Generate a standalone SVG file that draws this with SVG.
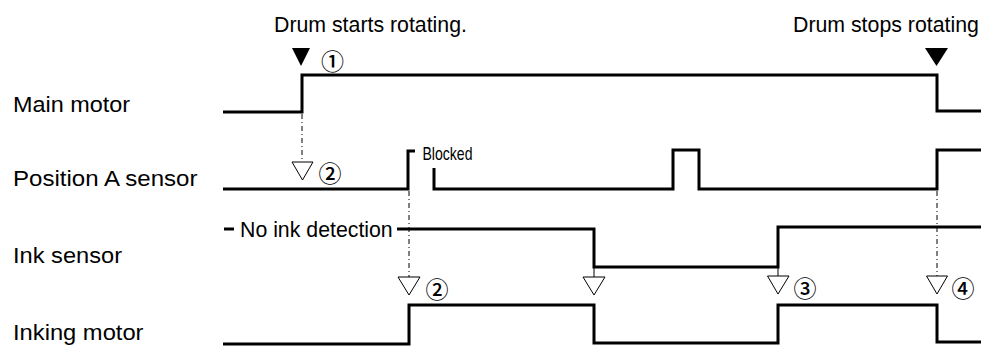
<svg xmlns="http://www.w3.org/2000/svg" width="981" height="347" viewBox="0 0 981 347">
<style>
text{font-family:"Liberation Sans",Arial,sans-serif;fill:#000}
.lbl{font-size:21.3px}
.num{font-family:"Noto Sans CJK JP","DejaVu Sans",sans-serif;font-size:23px;font-weight:500;text-anchor:middle;dominant-baseline:central}
.sig{fill:none;stroke:#000;stroke-width:3;stroke-linejoin:miter;stroke-linecap:butt}
.dd{fill:none;stroke:#000;stroke-width:1;stroke-dasharray:5 3 1 3}
.thin{fill:none;stroke:#000;stroke-width:1}
.tri{fill:#fff;stroke:#000;stroke-width:1}
.ftri{fill:#000}
</style>
<rect width="981" height="347" fill="#fff"/>
<g id="labels">
<text class="lbl" x="13" y="112" textLength="117" lengthAdjust="spacingAndGlyphs">Main motor</text>
<text class="lbl" x="13" y="185.5" textLength="184.5" lengthAdjust="spacingAndGlyphs">Position A sensor</text>
<text class="lbl" x="13" y="263" textLength="109" lengthAdjust="spacingAndGlyphs">Ink sensor</text>
<text class="lbl" x="13" y="340" textLength="130.5" lengthAdjust="spacingAndGlyphs">Inking motor</text>
</g>
<g id="main-motor">
<path class="sig" d="M223,112 H302 V75 H937 V111 H981"/>
</g>
<g id="position-a-sensor">
<path class="sig" d="M223,189 H408 V151 H415"/>
<path class="sig" d="M434,168 V189 H673 V150 H699 V189 H937 V150 H981"/>
<text x="422.5" y="160" font-size="19" textLength="50" lengthAdjust="spacingAndGlyphs">Blocked</text>
</g>
<g id="ink-sensor">
<path class="sig" d="M224,229 H234"/>
<text class="lbl" x="240" y="237">No ink detection</text>
<path class="sig" d="M397,229 H594 V267 H778 V227 H981"/>
</g>
<g id="inking-motor">
<path class="sig" d="M223,344 H409 V305 H594 V343 H778 V305 H937 V342 H981"/>
</g>
<g id="drum-start">
<text class="lbl" x="274" y="32">Drum starts rotating.</text>
<polygon class="ftri" points="292,48 310,48 301,66"/>
<text class="num" x="332.5" y="59.5">①</text>
</g>
<g id="drum-stop">
<text class="lbl" x="793" y="32">Drum stops rotating</text>
<polygon class="ftri" points="925,48 948,48 936.5,66"/>
</g>
<g id="connectors">
<line class="dd" x1="302" y1="114" x2="302" y2="162"/>
<polygon class="tri" points="292,162 313,162 302.5,180"/>
<text class="num" x="330" y="172">②</text>
<line class="dd" x1="409" y1="191" x2="409" y2="277"/>
<polygon class="tri" points="398,277 420,277 409,295"/>
<text class="num" x="437" y="288">②</text>
<line class="thin" x1="594" y1="268" x2="594" y2="277"/>
<polygon class="tri" points="583,277 605,277 594,295"/>
<line class="thin" x1="778" y1="268" x2="778" y2="276"/>
<polygon class="tri" points="767.5,276 789,276 778,294"/>
<text class="num" x="805" y="287">③</text>
<line class="dd" x1="937" y1="191" x2="937" y2="276"/>
<polygon class="tri" points="926.5,276 947.5,276 937,294"/>
<text class="num" x="963" y="287">④</text>
</g>
</svg>
